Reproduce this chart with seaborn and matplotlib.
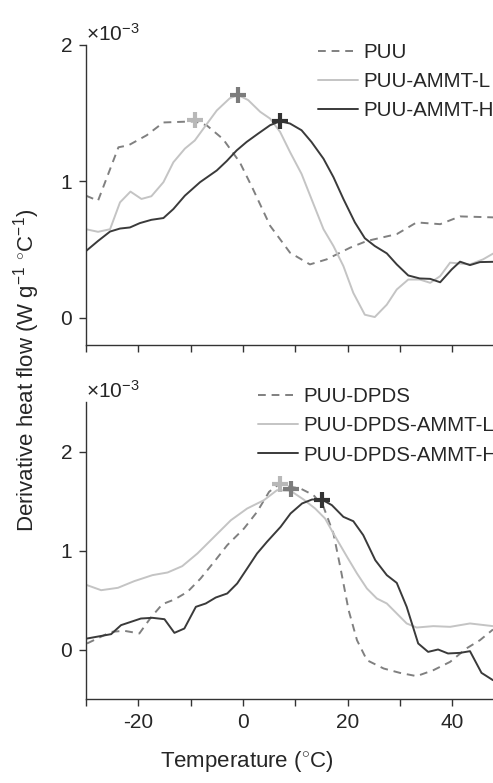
import matplotlib
matplotlib.use("Agg")
import matplotlib.pyplot as plt
import seaborn as sns
import pandas as pd

# values in units of 1e-3 W g^-1 C^-1
puu_t = [-30, -27.7, -23.8, -21.9, -18.4, -15.2, -9.2, -6.9, -3.8, -0.6, 1.9, 5.2, 9.0, 12.8,
         16.0, 20.5, 23.7, 29.4, 33.2, 37.7, 41.5, 47.8]
puu_v = [0.895, 0.858, 1.25, 1.264, 1.338, 1.432, 1.44, 1.41, 1.31, 1.14, 0.945, 0.674, 0.477,
         0.391, 0.428, 0.514, 0.563, 0.613, 0.699, 0.686, 0.743, 0.736]

puu_l_t = [-30, -27.7, -25.4, -23.5, -21.5, -19.4, -17.5, -15.2, -13.3, -11.1, -9.2, -7.3, -5.0,
           -2.5, -0.9, 1.0, 3.3, 5.2, 7.1, 9.0, 11.2, 13.1, 15.4, 17.3, 19.2, 21.1, 23.3, 25.2,
           27.5, 29.4, 31.6, 33.8, 35.8, 37.7, 39.6, 43.4, 45.9, 47.8]
puu_l_v = [0.649, 0.63, 0.649, 0.846, 0.925, 0.871, 0.891, 0.994, 1.14, 1.24, 1.30, 1.40, 1.52,
           1.61, 1.633, 1.596, 1.51, 1.46, 1.363, 1.215, 1.055, 0.871, 0.649, 0.526, 0.379, 0.182,
           0.022, 0.005, 0.096, 0.207, 0.28, 0.28, 0.256, 0.305, 0.404, 0.391, 0.428, 0.47]

puu_h_t = [-30, -27.7, -25.4, -23.5, -21.6, -19.7, -17.5, -15.2, -13.3, -11.1, -8.2, -5.0, -3.1,
           -1.2, 0.7, 2.9, 5.2, 7.1, 9.0, 11.2, 13.1, 15.4, 17.3, 19.2, 21.4, 23.3, 25.2, 27.5,
           29.4, 31.6, 33.8, 35.8, 37.7, 39.9, 41.5, 43.4, 45.3, 47.8]
puu_h_v = [0.489, 0.563, 0.632, 0.654, 0.662, 0.694, 0.718, 0.731, 0.797, 0.895, 0.994, 1.08,
           1.149, 1.227, 1.289, 1.35, 1.412, 1.441, 1.424, 1.375, 1.289, 1.166, 1.031, 0.871,
           0.699, 0.583, 0.526, 0.472, 0.391, 0.31, 0.288, 0.285, 0.26, 0.354, 0.411, 0.386,
           0.408, 0.41]

dpds_t = [-29.8, -25.2, -22.7, -19.8, -17.6, -15.4, -13.1, -10.6, -8.1, -5.5, -3.0, 0.2, 2.7, 5.0,
          6.9, 9.1, 11.0, 13.5, 15.4, 17.3, 18.6, 20.2, 21.8, 23.7, 26.9, 30.0, 33.2, 36.4, 39.6,
          42.7, 45.3, 47.8]
dpds_v = [0.061, 0.178, 0.189, 0.162, 0.323, 0.458, 0.505, 0.582, 0.717, 0.886, 1.054, 1.222,
          1.39, 1.593, 1.67, 1.643, 1.626, 1.559, 1.441, 1.172, 0.835, 0.397, 0.094, -0.108,
          -0.192, -0.236, -0.269, -0.209, -0.125, 0.01, 0.094, 0.202]

dpds_l_t = [-29.8, -27.1, -23.9, -20.8, -17.3, -14.4, -11.6, -8.7, -5.5, -2.3, 0.8, 4.0, 6.5, 9.1,
            11.6, 13.8, 15.7, 17.3, 19.9, 21.8, 23.7, 25.6, 27.5, 29.4, 31.3, 33.2, 36.4, 39.6,
            43.4, 47.8]
dpds_l_v = [0.65, 0.599, 0.623, 0.69, 0.751, 0.778, 0.842, 0.97, 1.138, 1.306, 1.424, 1.508, 1.609,
            1.603, 1.515, 1.424, 1.323, 1.172, 0.936, 0.768, 0.616, 0.515, 0.465, 0.364, 0.263,
            0.222, 0.236, 0.229, 0.263, 0.236]

dpds_h_t = [-29.8, -25.2, -23.3, -19.5, -17.3, -15.0, -13.1, -11.2, -9.0, -7.1, -5.2, -3.0, -1.1,
            0.8, 2.7, 4.6, 7.2, 9.1, 11.3, 13.2, 15.1, 17.0, 19.2, 21.1, 23.0, 25.3, 27.5, 29.4,
            31.3, 33.5, 35.4, 37.3, 39.2, 41.5, 43.4, 45.6, 47.8]
dpds_h_v = [0.111, 0.155, 0.246, 0.313, 0.32, 0.306, 0.168, 0.212, 0.431, 0.465, 0.525, 0.566,
            0.667, 0.818, 0.97, 1.088, 1.239, 1.374, 1.475, 1.515, 1.515, 1.458, 1.34, 1.296,
            1.155, 0.902, 0.751, 0.673, 0.431, 0.061, -0.024, 0.0, -0.04, -0.034, -0.017,
            -0.236, -0.31]

# peak markers (x, y)
top_peaks = [(-9.2, 1.449), (-0.9, 1.633), (7.1, 1.441)]
bot_peaks = [(7.0, 1.67), (9.1, 1.626), (15.1, 1.515)]

top_labels = ["PUU", "PUU-AMMT-L", "PUU-AMMT-H"]
bot_labels = ["PUU-DPDS", "PUU-DPDS-AMMT-L", "PUU-DPDS-AMMT-H"]

line_colors = ["#808080", "#c4c4c4", "#3a3a3a"]
peak_colors = ["#b8b8b8", "#7c7c7c", "#333333"]
text_color = "#262626"
fs = 15
leg_fs = 14.8
lab_fs = 16

sns.set_style("ticks")
plt.rcParams["font.family"] = ["Liberation Sans", "DejaVu Sans"]
plt.rcParams["mathtext.fontset"] = "custom"
plt.rcParams["mathtext.rm"] = "Liberation Sans"
plt.rcParams["mathtext.it"] = "Liberation Sans:italic"
plt.rcParams["mathtext.bf"] = "Liberation Sans:bold"

fig = plt.figure(figsize=(4.93, 7.83), dpi=100)
ax1 = fig.add_axes([86 / 493, 1 - 345 / 783, 407 / 493, 300 / 783])
ax2 = fig.add_axes([86 / 493, 1 - 699 / 783, 407 / 493, 297 / 783])


def draw(ax, series, labels, peaks):
    for (t, v), lab, col, ls in zip(series, labels, line_colors, ["--", "-", "-"]):
        df = pd.DataFrame({"T": t, "v": v})
        sns.lineplot(data=df, x="T", y="v", ax=ax, color=col, lw=1.4, label=lab,
                     linestyle=ls, sort=False)
    for (px, py), pc in zip(peaks, peak_colors):
        ax.plot(px, py, marker="+", ms=11, mew=3, color=pc, zorder=5)
    ax.lines[0].set_dashes((4, 3))
    ax.set_xlim(-30, 47.8)
    ax.set_xticks(range(-30, 50, 10))
    ax.set_xlabel("")
    ax.set_ylabel("")
    ax.tick_params(axis="both", direction="out", length=5, width=1, colors="#333333",
                   labelcolor=text_color, labelsize=fs, pad=5)
    for s in ["left", "bottom"]:
        ax.spines[s].set_color("#333333")
        ax.spines[s].set_linewidth(1)
    sns.despine(ax=ax)
    ax.text(0.0, 1.0, r"$\times10^{-3}$", transform=ax.transAxes, fontsize=fs,
            color=text_color, ha="left", va="bottom")


def legend(ax, x, y):
    ax.legend(loc="upper left", bbox_to_anchor=(x, y), borderaxespad=0, frameon=False,
              fontsize=leg_fs, handlelength=1.95, handletextpad=0.25, labelspacing=0.5,
              labelcolor=text_color)


draw(ax1, [(puu_t, puu_v), (puu_l_t, puu_l_v), (puu_h_t, puu_h_v)], top_labels, top_peaks)
ax1.set_ylim(-0.2, 2.0)
ax1.set_yticks([0, 1, 2])
ax1.set_xticklabels([])
legend(ax1, 0.55, 1.035)

draw(ax2, [(dpds_t, dpds_v), (dpds_l_t, dpds_l_v), (dpds_h_t, dpds_h_v)], bot_labels, bot_peaks)
ax2.set_ylim(-0.5, 2.5)
ax2.set_yticks([0, 1, 2])
ax2.set_xticklabels(["", "-20", "", "0", "", "20", "", "40"])
legend(ax2, 0.403, 1.078)

fig.text(0.5, 1 - 762 / 783, r"Temperature ($^{\circ}$C)", ha="center", va="center",
         fontsize=lab_fs, color=text_color)
fig.text(27 / 493, 0.527, r"Derivative heat flow (W g$^{-1}$ $^{\circ}$C$^{-1}$)",
         rotation=90, ha="center", va="center", fontsize=lab_fs, color=text_color)

fig.savefig("out.png", dpi=100)
